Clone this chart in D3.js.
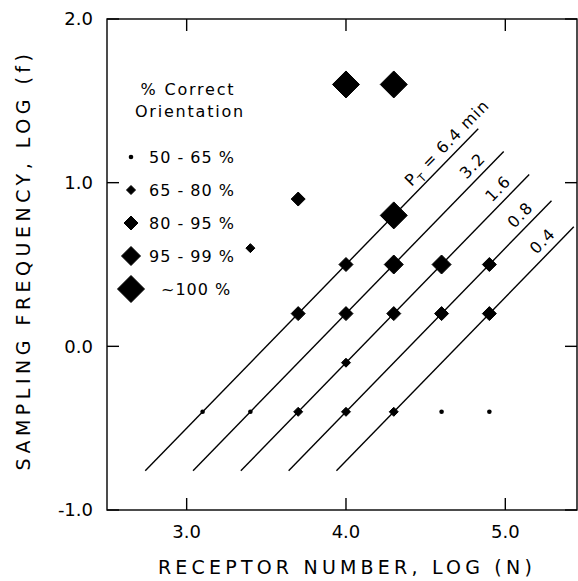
<!DOCTYPE html>
<meta charset="utf-8">
<style>

body {
  margin: 0;
  background: #fff;
}

text {
  font-family: "DejaVu Sans", sans-serif;
  fill: #000;
}

.frame, .tick, .pline {
  fill: none;
  stroke: #000;
  stroke-width: 1.4px;
}

</style>
<body>
<script src="https://cdnjs.cloudflare.com/ajax/libs/d3/7.8.5/d3.min.js"></script>
<script>

var width = 578,
    height = 581;

// receptor number, log(N) ; sampling frequency, log(f) ; accuracy class
var logN = [3.1, 3.4, 3.7, 4.0, 4.3, 4.6, 4.9,
            4.0,
            3.7, 4.0, 4.3, 4.6, 4.9,
            4.0, 4.3, 4.6, 4.9,
            3.4, 3.7, 4.3, 4.0, 4.3];
var logF = [-0.4, -0.4, -0.4, -0.4, -0.4, -0.4, -0.4,
            -0.1,
            0.2, 0.2, 0.2, 0.2, 0.2,
            0.5, 0.5, 0.5, 0.5,
            0.6, 0.9, 0.8, 1.6, 1.6];
var accClass = [0, 0, 1, 1, 1, 0, 0,
                1,
                2, 2, 2, 2, 2,
                2, 3, 3, 2,
                1, 2, 4, 4, 4];

var classLabels = ["50 - 65 %", "65 - 80 %", "80 - 95 %", "95 - 99 %", "~100 %"];

// iso-period lines  log(f) = log(N) + offset
var periods = ["6.4", "3.2", "1.6", "0.8", "0.4"];
var lineOffset = [-3.5, -3.8, -4.1, -4.4, -4.7];
var lineStart = [2.74, 3.04, 3.34, 3.64, 3.94];
var lineEnd = [4.83, 4.99, 5.15, 5.29, 5.43];

var xTicks = [3, 4, 5],
    yTicks = [-1, 0, 1, 2];

var markerSize = [2.3, 4.5, 7, 9.5, 13.5];

var x = d3.scaleLinear().domain([2.5, 5.45]).range([107, 577]);
var y = d3.scaleLinear().domain([-1, 2]).range([510, 19]);

// plain hyphen for negatives, like the original typesetting
var fmt = function(v) { return d3.format(".1f")(v).replace("\u2212", "-"); };

var svg = d3.select("body").append("svg")
    .attr("width", width)
    .attr("height", height);

function marker(sel, cls) {
  var h = markerSize[cls];
  if (cls === 0) {
    sel.append("circle").attr("r", h).attr("fill", "#000");
  } else {
    sel.append("path")
      .attr("d", "M0," + (-h) + "L" + h + ",0L0," + h + "L" + (-h) + ",0Z")
      .attr("fill", "#000")
      .attr("stroke", "#000")
      .attr("stroke-linejoin", "round")
      .attr("stroke-width", 1);
  }
}

// frame
svg.append("rect")
    .attr("class", "frame")
    .attr("x", x.range()[0])
    .attr("y", y.range()[1])
    .attr("width", x.range()[1] - x.range()[0])
    .attr("height", y.range()[0] - y.range()[1]);

var tk = 12;

xTicks.forEach(function(t) {
  svg.append("line").attr("class", "tick")
    .attr("x1", x(t)).attr("x2", x(t))
    .attr("y1", y.range()[0]).attr("y2", y.range()[0] - tk);
  svg.append("line").attr("class", "tick")
    .attr("x1", x(t)).attr("x2", x(t))
    .attr("y1", y.range()[1]).attr("y2", y.range()[1] + tk);
  svg.append("text")
    .attr("x", x(t))
    .attr("y", 538)
    .attr("text-anchor", "middle")
    .style("font-size", "18px")
    .text(fmt(t));
});

yTicks.forEach(function(t) {
  svg.append("line").attr("class", "tick")
    .attr("x1", x.range()[0]).attr("x2", x.range()[0] + tk)
    .attr("y1", y(t)).attr("y2", y(t));
  svg.append("line").attr("class", "tick")
    .attr("x1", x.range()[1]).attr("x2", x.range()[1] - tk)
    .attr("y1", y(t)).attr("y2", y(t));
  svg.append("text")
    .attr("x", 93)
    .attr("y", y(t))
    .attr("dy", "0.36em")
    .attr("text-anchor", "end")
    .style("font-size", "18px")
    .text(fmt(t));
});

// axis titles
svg.append("text")
    .attr("x", 347)
    .attr("y", 574)
    .attr("text-anchor", "middle")
    .style("font-size", "19px")
    .style("letter-spacing", "4.2px")
    .text("RECEPTOR NUMBER, LOG (N)");

svg.append("text")
    .attr("transform", "translate(30,260)rotate(-90)")
    .attr("text-anchor", "middle")
    .style("font-size", "19px")
    .style("letter-spacing", "4.5px")
    .text("SAMPLING FREQUENCY, LOG (f)");

// iso-period lines
var angle = Math.atan2(y(0) - y(1), x(1) - x(0)) * 180 / Math.PI;

periods.forEach(function(p, i) {
  svg.append("line").attr("class", "pline")
    .attr("x1", x(lineStart[i])).attr("y1", y(lineStart[i] + lineOffset[i]))
    .attr("x2", x(lineEnd[i])).attr("y2", y(lineEnd[i] + lineOffset[i]));

  var ex = x(lineEnd[i]), ey = y(lineEnd[i] + lineOffset[i]),
      back = 32, a = angle * Math.PI / 180;
  var lx = ex - back * Math.cos(a),
      ly = ey + back * Math.sin(a);

  var label = svg.append("text")
      .attr("transform", "translate(" + lx + "," + ly + ")rotate(" + (-angle) + ")")
      .attr("y", -7)
      .attr("text-anchor", "middle")
      .style("font-size", "16px")
      .style("letter-spacing", "1px");

  if (i === 0) {
    label.append("tspan").text("P");
    label.append("tspan").attr("dy", 5).style("font-size", "11px").text("T");
    label.append("tspan").attr("dy", -5).text(" = " + p + " min");
  } else {
    label.text(p);
  }
});

// data points
d3.range(logN.length).forEach(function(i) {
  svg.append("g")
      .attr("transform", "translate(" + x(logN[i]) + "," + y(logF[i]) + ")")
      .call(marker, accClass[i]);
});

// legend
var legend = svg.append("g");

legend.append("text")
    .attr("x", 188).attr("y", 95)
    .attr("text-anchor", "middle")
    .style("font-size", "16px")
    .style("letter-spacing", "1.8px")
    .text("% Correct");

legend.append("text")
    .attr("x", 190).attr("y", 117)
    .attr("text-anchor", "middle")
    .style("font-size", "16px")
    .style("letter-spacing", "1.8px")
    .text("Orientation");

classLabels.forEach(function(lab, i) {
  var by = 163 + i * 33;
  legend.append("g")
      .attr("transform", "translate(131," + (by - 6) + ")")
      .call(marker, i);
  legend.append("text")
      .attr("x", i === 4 ? 161 : 149)
      .attr("y", by)
      .style("font-size", "16px")
      .style("letter-spacing", "1px")
      .text(lab);
});

</script>
